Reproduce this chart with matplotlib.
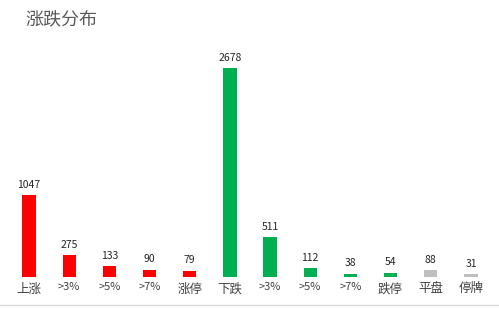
import matplotlib.pyplot as plt
from matplotlib.lines import Line2D

plt.rcParams['font.family'] = ['Noto Sans CJK SC', 'DejaVu Sans']

categories = ['上涨', '>3%', '>5%', '>7%', '涨停', '下跌', '>3%', '>5%', '>7%', '跌停', '平盘', '停牌']
values = [1047, 275, 133, 90, 79, 2678, 511, 112, 38, 54, 88, 31]
colors = ['#FF0000'] * 5 + ['#00B050'] * 5 + ['#BFBFBF'] * 2

fig = plt.figure(figsize=(4.99, 3.09), dpi=100)
ax = fig.add_axes([0.018, 0.104, 0.966, 0.757])

x = range(len(values))
bars = ax.bar(x, values, width=0.33, color=colors)
for b, v in zip(bars, values):
    ax.text(b.get_x() + b.get_width() / 2, v + 70, str(v), ha='center', va='bottom',
            fontsize=7.5, color='#262626')

ax.set_xlim(-0.5, len(values) - 0.5)
ax.set_ylim(0, 3000)
ax.set_xticks(list(x))
ax.set_xticklabels(categories, color='#404040')
for lbl in ax.get_xticklabels():
    lbl.set_fontsize(8 if lbl.get_text().startswith('>') else 9)
ax.tick_params(axis='x', length=0, pad=4)
ax.set_yticks([])
for s in ax.spines.values():
    s.set_visible(False)

fig.text(0.05, 0.935, '涨跌分布', fontsize=13, color='#595959', va='center')
fig.add_artist(Line2D([0, 1], [0.013, 0.013], color='#D9D9D9', lw=1, transform=fig.transFigure))

fig.savefig('out.png', dpi=100)
